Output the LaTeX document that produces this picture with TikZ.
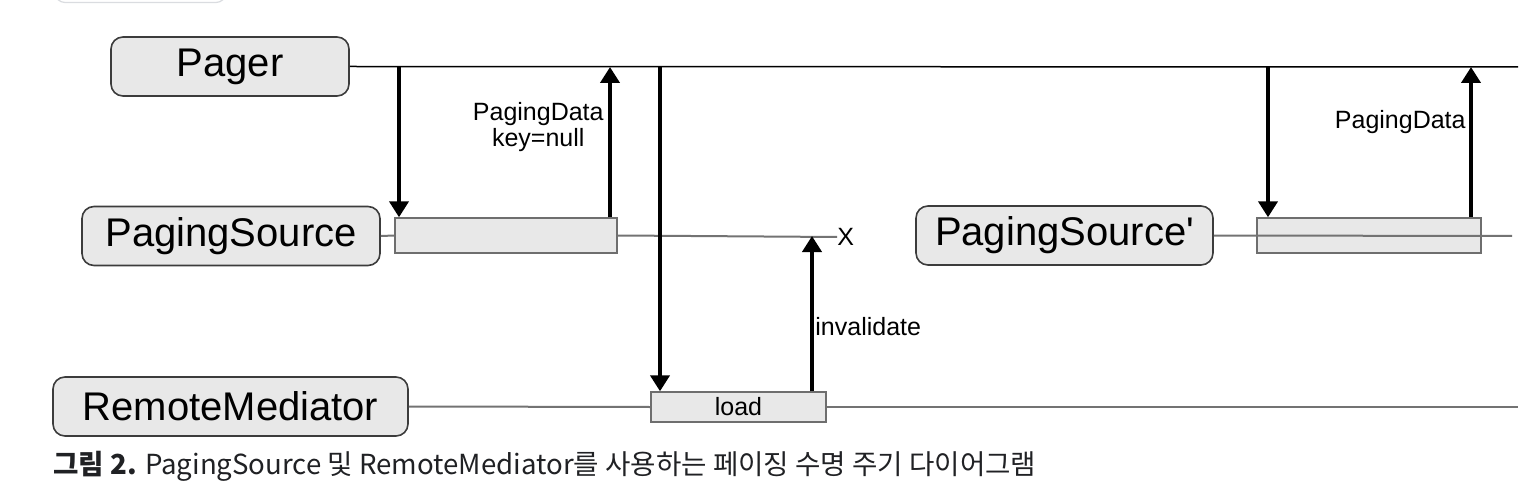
\documentclass[tikz,border=0pt]{standalone}
\usepackage{fontspec}
\setmainfont{Liberation Sans}
\newfontfamily\krfont{Noto Sans CJK KR}
\usepackage{tikz}
\usetikzlibrary{arrows.meta, calc}
\usepackage{xcolor}

\begin{document}
\begin{tikzpicture}[x=0.5pt, y=-0.5pt,
    actor/.style={draw=actorline, fill=boxfill, rounded corners=6pt, line width=0.8pt,
        inner sep=0pt, minimum height=29.5pt, font=\fontsize{20}{24}\selectfont},
    callbox/.style={draw=callline, fill=boxfill, line width=0.7pt, inner sep=0pt},
    life/.style={draw=lifegray, line width=1pt},
    msg/.style={-{Triangle[width=9.5pt,length=8pt]}, line width=2.4pt},
    lbl/.style={inner sep=0pt, font=\fontsize{12.5}{13}\selectfont}]
    % Define colors
    \definecolor{boxfill}{RGB}{232, 232, 232}
    \definecolor{actorline}{RGB}{60, 60, 60}
    \definecolor{callline}{RGB}{110, 110, 110}
    \definecolor{lifegray}{RGB}{115, 115, 115}
    \definecolor{tabline}{RGB}{218, 220, 224}
    \definecolor{capcolor}{RGB}{32, 33, 36}

    \clip (0,0) rectangle (1540,502);

    % Cut-off box at the top edge
    \draw[draw=tabline, fill=white, rounded corners=5pt, line width=0.6pt] (55,-30) rectangle (226,2.5);

    % Actors
    \node[actor, minimum width=119pt] (pager) at (230,66.5) {Pager};
    \node[actor, minimum width=149pt] (ps) at (231,236) {PagingSource};
    \node[actor, minimum width=177.5pt] (rm) at (230.5,406.5) {RemoteMediator};
    \node[actor, minimum width=148.5pt] (psnew) at (1064.5,235.5) {PagingSource\textquotesingle};

    % Activation boxes
    \node[callbox, minimum width=111pt, minimum height=17.5pt] (call1) at (506,235.5) {};
    \node[callbox, minimum width=87.5pt, minimum height=15pt, lbl] (load) at (738.5,407) {load};
    \node[callbox, minimum width=112pt, minimum height=17.5pt] (call2) at (1369,235.5) {};
    \node[lbl, anchor=west] (gone) at (837,237) {X};

    % Lifelines
    \coordinate (pagerend) at (1518,67);
    \coordinate (rmend) at (1518,407);
    \coordinate (psnewend) at (1512,236);
    \draw[line width=0.75pt] (pager.east) -- (pagerend);
    \draw[life] (ps.east) -- (call1.west);
    \draw[life] (call1.east) -- (gone.west);
    \draw[life] (rm.east) -- (load.west);
    \draw[life] (load.east) -- (rmend);
    \draw[life] (psnew.east) -- (psnewend);

    % Messages
    \coordinate (req1) at (399,67);
    \coordinate (ret1) at (610,67);
    \coordinate (trig) at (660,67);
    \coordinate (inval) at (812,236);
    \coordinate (req2) at (1268,67);
    \coordinate (ret2) at (1471,67);
    \draw[msg] (req1) -- (req1 |- call1.north);
    \draw[msg] (ret1 |- call1.north) -- (ret1);
    \draw[msg] (trig) -- (trig |- load.north);
    \draw[msg] (inval |- load.north) -- (inval);
    \draw[msg] (req2) -- (req2 |- call2.north);
    \draw[msg] (ret2 |- call2.north) -- (ret2);

    % Message labels
    \node[lbl, anchor=east, align=center] (firstdata) at (604,127) {PagingData\\key=null};
    \node[lbl, anchor=east] (nextdata) at (1466,122) {PagingData};
    \node[lbl, anchor=west] (invlbl) at (815,327) {invalidate};

    % Caption
    \node[anchor=west, inner sep=0pt, text=capcolor, font=\krfont\fontsize{13.8}{16}\selectfont] (caption) at (53,466)
        {\textbf{그림 2.} PagingSource 및 RemoteMediator를 사용하는 페이징 수명 주기 다이어그램};

\end{tikzpicture}
\end{document}
